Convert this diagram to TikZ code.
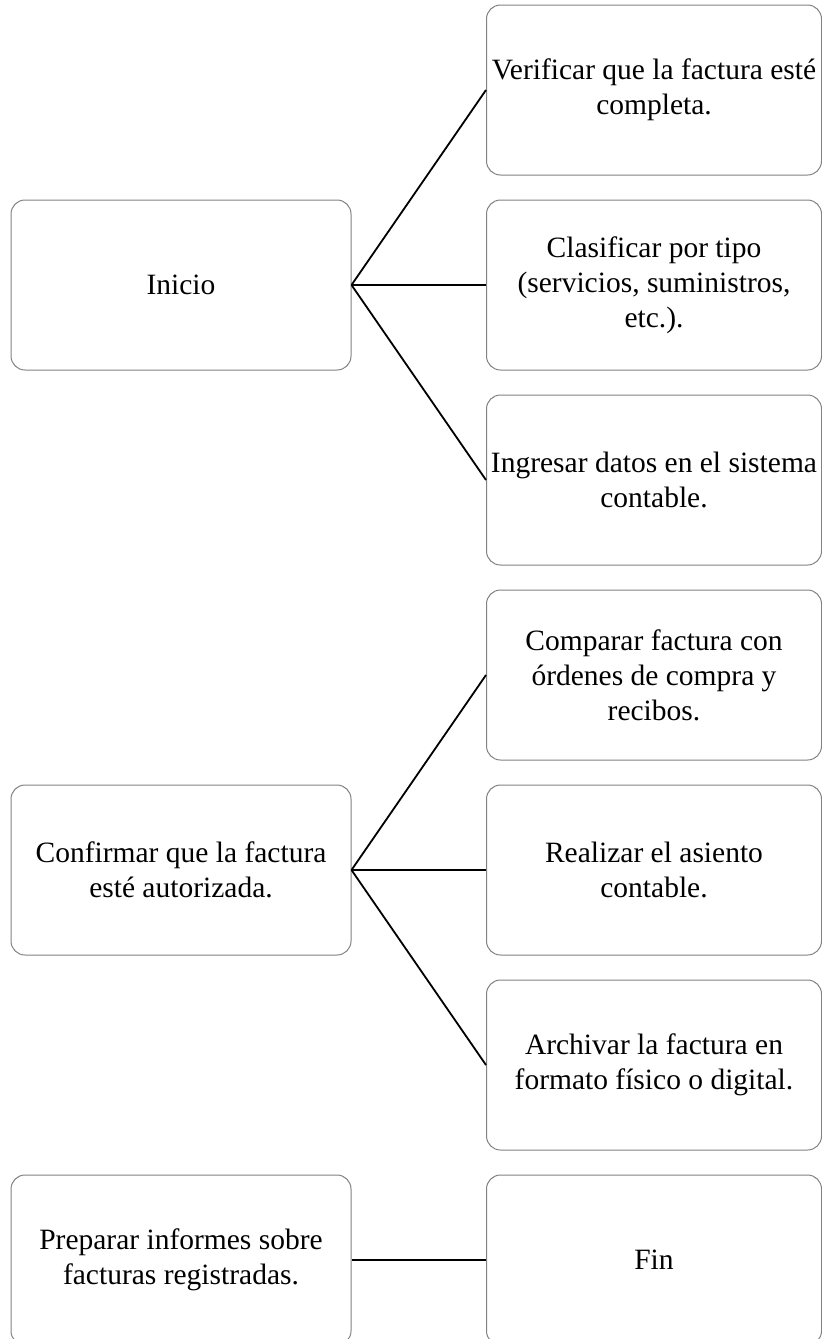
\documentclass[tikz,border=0pt]{standalone}
\usepackage{fontspec}
\setmainfont{Liberation Serif}
\definecolor{boxgray}{RGB}{130,130,130}
\tikzset{
  box/.style={draw=boxgray, line width=1pt, rounded corners=14pt, fill=white,
    minimum height=170pt, align=center, inner sep=0pt,
    font=\fontsize{29.5}{35}\selectfont},
  lbox/.style={box, minimum width=340pt},
  rbox/.style={box, minimum width=335pt},
  link/.style={draw=black, line width=1.8pt}
}
\begin{document}
\begin{tikzpicture}[x=1pt,y=-1pt]
\useasboundingbox (0,0) rectangle (822,1339);
\clip (0,0) rectangle (822,1339);
\node[lbox] (inicio) at (181,285) {Inicio};
\node[lbox] (confirmar) at (181,870) {Confirmar que la factura\\esté autorizada.};
\node[lbox] (preparar) at (181,1260) {Preparar informes sobre\\facturas registradas.};
\node[rbox] (b1) at (654,90) {Verificar que la factura esté\\completa.};
\node[rbox] (b2) at (654,285) {Clasificar por tipo\\(servicios, suministros,\\etc.).};
\node[rbox] (b3) at (654,480) {Ingresar datos en el sistema\\contable.};
\node[rbox] (b4) at (654,675) {Comparar factura con\\órdenes de compra y\\recibos.};
\node[rbox] (b5) at (654,870) {Realizar el asiento\\contable.};
\node[rbox] (b6) at (654,1065) {Archivar la factura en\\formato físico o digital.};
\node[rbox] (fin) at (654,1260) {Fin};
\draw[link] (inicio.east) -- (b1.west);
\draw[link] (inicio.east) -- (b2.west);
\draw[link] (inicio.east) -- (b3.west);
\draw[link] (confirmar.east) -- (b4.west);
\draw[link] (confirmar.east) -- (b5.west);
\draw[link] (confirmar.east) -- (b6.west);
\draw[link] (preparar.east) -- (fin.west);
\end{tikzpicture}
\end{document}
